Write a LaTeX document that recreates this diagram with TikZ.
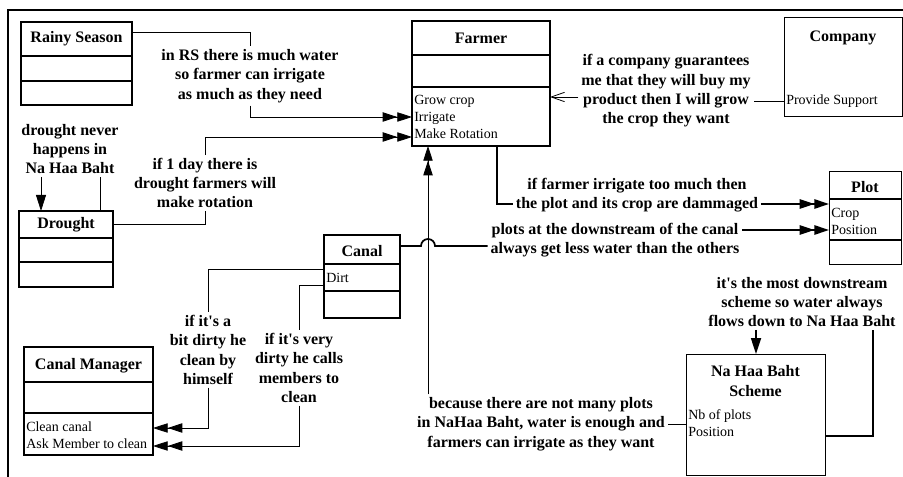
\documentclass[tikz,border=0pt]{standalone}
\usepackage{fontspec}
\setmainfont{Liberation Serif}
\usetikzlibrary{arrows.meta}

\begin{document}
\begin{tikzpicture}[x=0.75pt, y=-0.75pt,
    klass/.style={draw, line width=1.4pt, inner sep=0pt, outer sep=0pt, anchor=north west},
    lite/.style={klass, line width=0.7pt},
    boxsize/.style 2 args={minimum width=#1*0.75pt, minimum height=#2*0.75pt},
    ttl/.style={font=\fontsize{12}{14.5}\selectfont\bfseries, align=center, inner sep=0pt},
    attr/.style={font=\fontsize{10.5}{12.8}\selectfont, align=left, anchor=west, inner sep=0pt},
    lbl/.style={font=\fontsize{12}{14.5}\selectfont\bfseries, align=center, inner sep=2pt},
    sep/.style={line width=1.4pt},
    wire/.style={line width=0.6pt},
    heavy/.style={line width=1.3pt},
    dbl/.style={-{Triangle[length=11pt,width=7pt,sep=0pt] Triangle[length=11pt,width=7pt]}},
    sgl/.style={-{Triangle[length=12pt,width=7.5pt]}},
    opn/.style={-{Straight Barb[length=10pt,width=7pt]}}]
  \useasboundingbox (0,0) rectangle (903,477);
  % page frame
  \draw[line width=1.2pt] (8,477) -- (8,10) -- (903,10);

  % classes
  \node[klass, boxsize={111}{83}] (rs) at (21,22) {};
  \node[ttl] (rs-t) at (76.5,39) {Rainy Season};
  \draw[sep] (rs.west |- 0,56) -- (rs.east |- 0,56);
  \draw[sep] (rs.west |- 0,81) -- (rs.east |- 0,81);

  \node[klass, boxsize={138}{125}] (farmer) at (412,21) {};
  \node[ttl] (farmer-t) at (481,38) {Farmer};
  \draw[sep] (farmer.west |- 0,55) -- (farmer.east |- 0,55);
  \draw[sep] (farmer.west |- 0,87) -- (farmer.east |- 0,87);
  \node[attr] (farmer-a) at (414,117) {Grow crop\\Irrigate\\Make Rotation};

  \node[lite, boxsize={118}{99}] (company) at (784,17) {};
  \node[ttl] (company-t) at (843,38) {Company};
  \node[attr] (company-a) at (786,101) {Provide Support};

  \node[lite, boxsize={72}{93}] (plot) at (829,171) {};
  \node[ttl] (plot-t) at (865,187) {Plot};
  \draw[sep] (plot.west |- 0,199) -- (plot.east |- 0,199);
  \draw[sep] (plot.west |- 0,240) -- (plot.east |- 0,240);
  \node[attr] (plot-a) at (831,221) {Crop\\Position};

  \node[klass, boxsize={94}{76}] (drought) at (19,211) {};
  \node[ttl] (drought-t) at (66,225) {Drought};
  \draw[sep] (drought.west |- 0,238) -- (drought.east |- 0,238);
  \draw[sep] (drought.west |- 0,262) -- (drought.east |- 0,262);

  \node[klass, boxsize={76}{83}] (canal) at (324,235) {};
  \node[ttl] (canal-t) at (362,251) {Canal};
  \draw[sep] (canal.west |- 0,264) -- (canal.east |- 0,264);
  \draw[sep] (canal.west |- 0,291) -- (canal.east |- 0,291);
  \node[attr] (canal-a) at (326,278) {Dirt};

  \node[klass, boxsize={129}{108}] (cm) at (24,347) {};
  \node[ttl] (cm-t) at (88.5,366) {Canal Manager};
  \draw[sep] (cm.west |- 0,382) -- (cm.east |- 0,382);
  \draw[sep] (cm.west |- 0,413) -- (cm.east |- 0,413);
  \node[attr] (cm-a) at (26,435) {Clean canal\\Ask Member to clean};

  \node[lite, boxsize={139}{121}] (nhb) at (686,354) {};
  \node[ttl] (nhb-t) at (755.5,381) {Na Haa Baht\\Scheme};
  \node[attr] (nhb-a) at (688,423) {Nb of plots\\Position};

  % labels
  \node[lbl] (l-rain) at (250,76) {in RS there is much water\\so farmer can irrigate\\as much as they need};
  \node[lbl] (l-never) at (70,149) {drought never\\happens in\\Na Haa Baht};
  \node[lbl] (l-day) at (205,183) {if 1 day there is\\drought farmers will\\make rotation};
  \node[lbl] (l-comp) at (666,91) {if a company guarantees\\me that they will buy my\\product then I will grow\\the crop they want};
  \node[lbl] (l-much) at (637,195) {if farmer irrigate too much then\\the plot and its crop are dammaged};
  \node[lbl] (l-down) at (615,240) {plots at the downstream of the canal\\always get less water than the others};
  \node[lbl] (l-few) at (541,424) {because there are not many plots\\in NaHaa Baht, water is enough and\\farmers can irrigate as they want};
  \node[lbl] (l-most) at (802,302) {it\textquotesingle s the most downstream\\scheme so water always\\flows down to Na Haa Baht};
  \node[lbl] (l-bit) at (208,350) {if it\textquotesingle s a\\bit dirty he\\clean by\\himself};
  \node[lbl] (l-very) at (299,368) {if it\textquotesingle s very\\dirty he calls\\members to\\clean};

  % connectors
  \draw[wire] (rs.east |- 0,32) -| (l-rain.north);
  \draw[wire, dbl] (l-rain.south) |- (farmer.west |- 0,117);
  \draw[wire] (drought.east |- 0,224) -| (l-day.south);
  \draw[wire, dbl] (l-day.north) |- (farmer.west |- 0,137);
  \draw[wire] (drought.north -| 100,0) -- (l-never.south -| 100,0);
  \draw[wire, sgl] (l-never.south -| 41,0) -- (drought.north -| 41,0);
  \draw[wire] (company.west |- 0,101) -- (l-comp.east |- 0,101);
  \draw[wire, opn] (l-comp.west |- 0,97) -- (farmer.east |- 0,97);
  \draw[heavy] (farmer.south -| 497,0) |- (l-much.west |- 0,204);
  \draw[heavy, dbl] (l-much.east |- 0,204) -- (plot.west |- 0,204);
  \draw[heavy] (canal.east |- 0,246) -- (421,246) arc[start angle=180, end angle=360, radius=7] -- (l-down.west |- 0,246);
  \draw[heavy, dbl] (l-down.east |- 0,230) -- (plot.west |- 0,230);
  \draw[wire] (nhb.west |- 0,424) -- (l-few.east |- 0,424);
  \draw[wire, dbl] (l-few.north -| 428,0) -- (farmer.south -| 428,0);
  \draw[heavy] (nhb.east |- 0,436) -| (l-most.south -| 873,0);
  \draw[heavy, sgl] (l-most.south -| 756,0) -- (nhb.north -| 756,0);
  \draw[wire] (canal.west |- 0,269) -| (l-bit.north);
  \draw[wire, dbl] (l-bit.south) |- (cm.east |- 0,428);
  \draw[wire] (canal.west |- 0,285) -| (l-very.north);
  \draw[wire, dbl] (l-very.south) |- (cm.east |- 0,446);
\end{tikzpicture}
\end{document}
